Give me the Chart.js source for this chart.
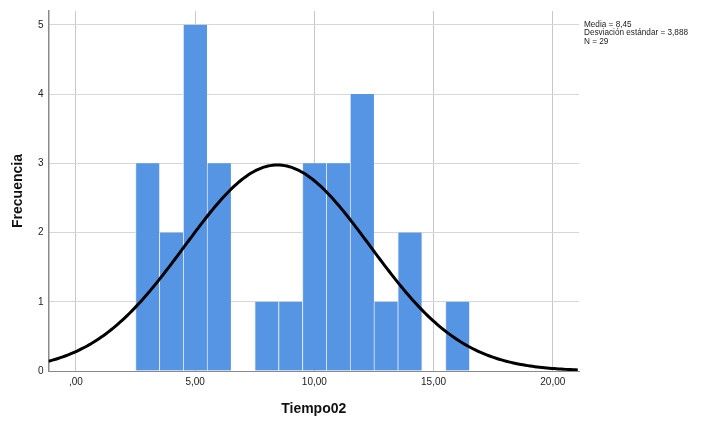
<!DOCTYPE html>
<html>
<head>
<meta charset="utf-8">
<script src="https://cdn.jsdelivr.net/npm/chart.js@4/dist/chart.umd.min.js"></script>
<style>
  body { margin: 0; background: #fff; }
  #wrap { width: 714px; height: 421px; position: relative; }
</style>
</head>
<body>
<div id="wrap"><canvas id="histChart"></canvas></div>
<script>
// Histogram of Tiempo02 with normal curve

const binCenters = [3, 4, 5, 6, 7, 8, 9, 10, 11, 12, 13, 14, 15, 16];
const frequencies = [3, 2, 5, 3, 0, 1, 1, 3, 3, 4, 1, 2, 0, 1];
const yTickValues = [0, 1, 2, 3, 4, 5];
const xTickValues = [0, 5, 10, 15, 20];
const xTickLabels = [',00', '5,00', '10,00', '15,00', '20,00'];
const statsLines = ['Media = 8,45', 'Desviación estándar = 3,888', 'N = 29'];

// parameters of the fitted normal curve (from the legend)
const meanVal = 8.45;
const sdVal = 3.888;
const nVal = 29;
const binWidth = 1;

const xMin = -1.15, xMax = 21.1;
const yMin = 0, yMax = 5.2;

// normal curve scaled to counts, as SPSS draws it
const curvePoints = [];
for (let x = xMin; x <= xMax + 0.001; x += 0.1) {
    const z = (x - meanVal) / sdVal;
    const y = nVal * binWidth * Math.exp(-0.5 * z * z) / (sdVal * Math.sqrt(2 * Math.PI));
    curvePoints.push({ x: x, y: y });
}

const fontFamily = "'Liberation Sans', Arial, sans-serif";

const statsBox = {
    id: 'statsBox',
    afterDraw(chart) {
        const ctx = chart.ctx;
        ctx.save();
        ctx.font = '8.2px ' + fontFamily;
        ctx.fillStyle = '#222';
        ctx.textAlign = 'left';
        ctx.textBaseline = 'middle';
        statsLines.forEach((line, i) => {
            ctx.fillText(line, 584, 25 + i * 8.2);
        });
        ctx.restore();
    }
};

const histCtx = document.getElementById('histChart');
new Chart(histCtx, {
    type: 'bar',
    data: {
        datasets: [{
            type: 'line',
            data: curvePoints,
            borderColor: '#000',
            borderWidth: 3,
            pointRadius: 0,
            tension: 0,
            fill: false,
            order: 0
        }, {
            type: 'bar',
            data: binCenters.map((c, i) => ({ x: c, y: frequencies[i] })),
            backgroundColor: '#5694e4',
            borderColor: '#dfe9f8',
            borderWidth: { left: 1, right: 0, top: 0, bottom: 0 },
            borderSkipped: false,
            categoryPercentage: 1,
            barPercentage: 1,
            order: 1
        }]
    },
    options: {
        responsive: true,
        maintainAspectRatio: false,
        animation: false,
        layout: {
            padding: { left: 0, right: 135, top: 6.7, bottom: 0 }
        },
        plugins: {
            legend: { display: false },
            tooltip: { enabled: false }
        },
        scales: {
            x: {
                type: 'linear',
                min: xMin,
                max: xMax,
                offset: false,
                afterBuildTicks: scale => {
                    scale.ticks = xTickValues.map(v => ({ value: v }));
                },
                afterFit: scale => { scale.height = 50; },
                ticks: {
                    callback: (v) => xTickLabels[xTickValues.indexOf(v)],
                    color: '#222',
                    padding: 5,
                    maxRotation: 0,
                    font: { family: fontFamily, size: 10 }
                },
                grid: {
                    color: '#c8c8c8',
                    offset: false,
                    drawTicks: false
                },
                border: { display: true, color: '#8a8a8a', width: 1 },
                title: {
                    display: true,
                    text: 'Tiempo02',
                    color: '#111',
                    padding: { top: 0, bottom: 3 },
                    font: { family: fontFamily, size: 14, weight: 'bold' }
                }
            },
            y: {
                min: yMin,
                max: yMax,
                afterBuildTicks: scale => {
                    scale.ticks = yTickValues.map(v => ({ value: v }));
                },
                afterFit: scale => { scale.width = 48.5; },
                ticks: {
                    color: '#222',
                    padding: 5,
                    font: { family: fontFamily, size: 10 }
                },
                grid: {
                    color: '#d6d6d6',
                    drawTicks: false
                },
                border: { display: true, color: '#8a8a8a', width: 1.5 },
                title: {
                    display: true,
                    text: 'Frecuencia',
                    color: '#111',
                    padding: { top: 10, bottom: 0 },
                    font: { family: fontFamily, size: 14, weight: 'bold' }
                }
            }
        }
    },
    plugins: [statsBox]
});
</script>
</body>
</html>
